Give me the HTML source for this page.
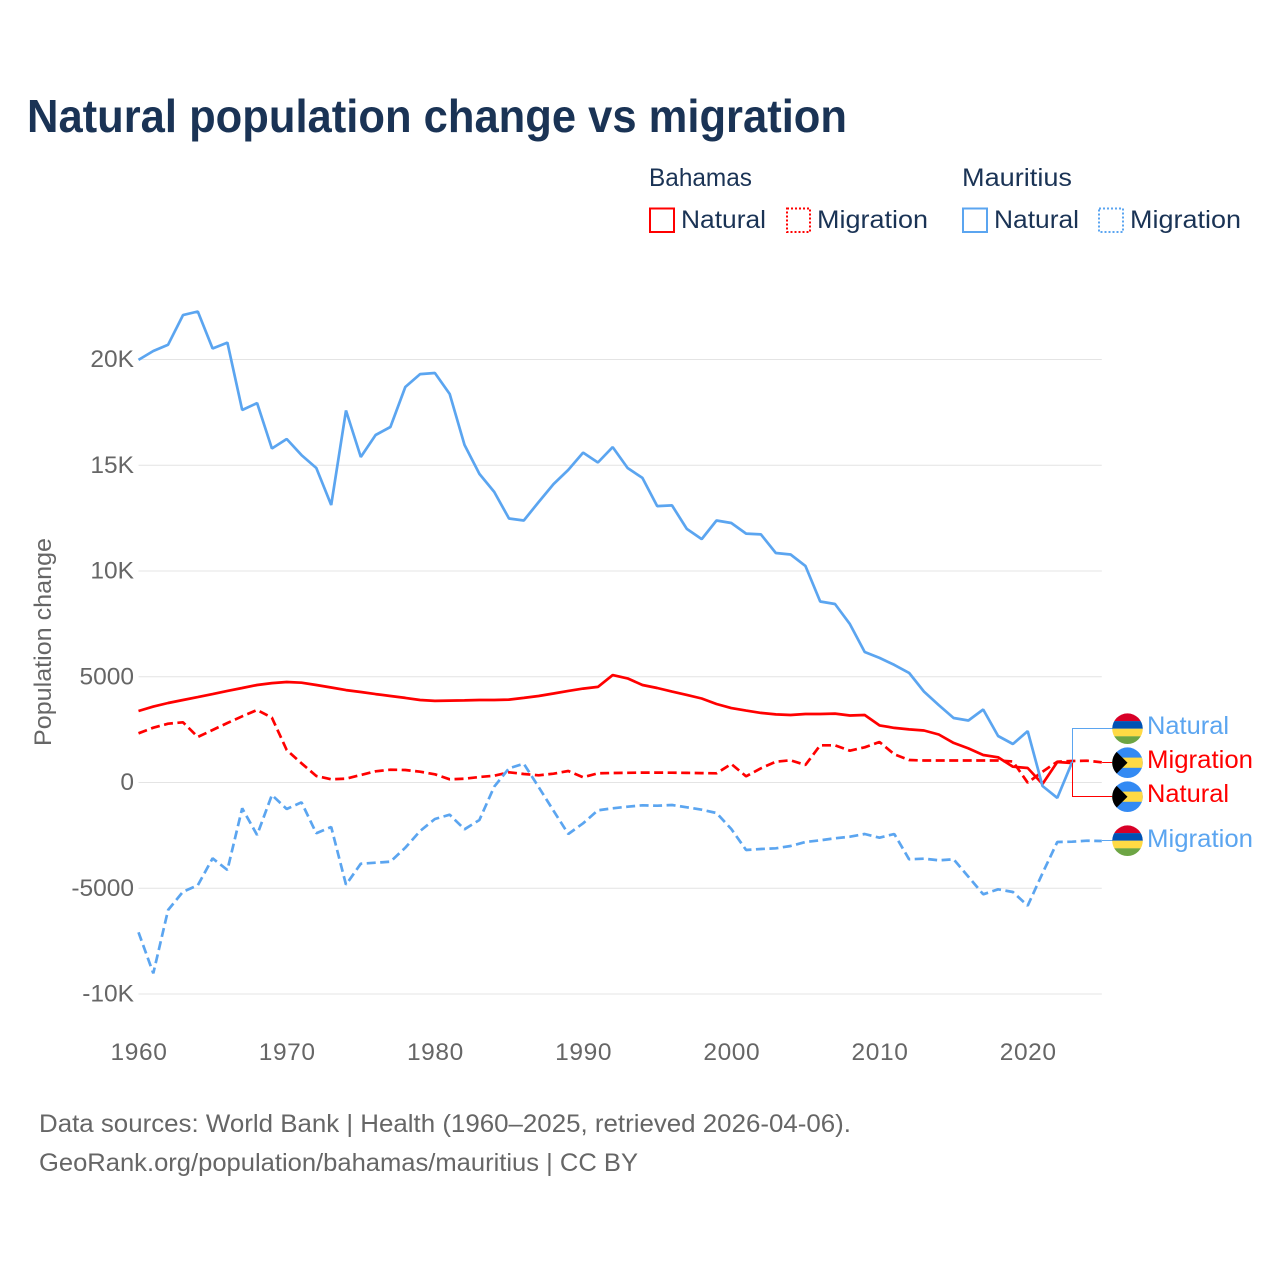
<!DOCTYPE html>
<html lang="en">
<head>
<meta charset="utf-8">
<title>Natural population change vs migration</title>
<style>
html,body{margin:0;padding:0;background:#fff;}
svg{display:block;font-family:"Liberation Sans",sans-serif;}
</style>
</head>
<body>
<svg id="chart" xmlns="http://www.w3.org/2000/svg" width="1280" height="1280" viewBox="0 0 1280 1280">
  <defs>
    <clipPath id="flag-clip"><circle cx="0" cy="0" r="15.3"/></clipPath>
  </defs>
  <rect width="1280" height="1280" fill="#fff"/>
  <text x="27" y="132" font-size="46" font-weight="700" fill="#1a3355" textLength="820" lengthAdjust="spacingAndGlyphs">Natural population change vs migration</text>

  <g font-size="25" fill="#1a3355">
    <text x="649" y="186" textLength="103" lengthAdjust="spacingAndGlyphs">Bahamas</text>
    <text x="962" y="186" textLength="110" lengthAdjust="spacingAndGlyphs">Mauritius</text>
    <rect x="650" y="208.5" width="24" height="23.5" fill="none" stroke="#ff0000" stroke-width="2"/>
    <text x="681" y="228" textLength="85" lengthAdjust="spacingAndGlyphs">Natural</text>
    <rect x="787" y="208.5" width="23" height="23.5" fill="none" stroke="#ff0000" stroke-width="2" stroke-dasharray="2 2"/>
    <text x="817" y="228" textLength="111" lengthAdjust="spacingAndGlyphs">Migration</text>
    <rect x="963" y="208.5" width="24" height="23.5" fill="none" stroke="#5ba5f0" stroke-width="2"/>
    <text x="994" y="228" textLength="85" lengthAdjust="spacingAndGlyphs">Natural</text>
    <rect x="1099" y="208.5" width="24" height="23.5" fill="none" stroke="#5ba5f0" stroke-width="2" stroke-dasharray="2 2"/>
    <text x="1130" y="228" textLength="111" lengthAdjust="spacingAndGlyphs">Migration</text>
  </g>

  <g id="grid"></g>
  <g id="y-ticks"></g>
  <g id="x-ticks"></g>
  <text transform="translate(51,642) rotate(-90)" text-anchor="middle" font-size="24" fill="#666" textLength="208" lengthAdjust="spacingAndGlyphs">Population change</text>
  <g id="series"></g>
  <g id="connectors"></g>

  <g>
    <g transform="translate(1127.5,728.7)" clip-path="url(#flag-clip)">
      <rect x="-16" y="-16" width="32" height="8.5" fill="#d80027"/><rect x="-16" y="-7.6" width="32" height="7.7" fill="#0052b4"/><rect x="-16" y="0" width="32" height="7.7" fill="#ffda44"/><rect x="-16" y="7.6" width="32" height="8.5" fill="#6da544"/>
    </g>
    <text x="1147" y="734" font-size="25" fill="#5ba5f0" textLength="82" lengthAdjust="spacingAndGlyphs">Natural</text>
  </g>
  <g>
    <g transform="translate(1127.5,762.7)" clip-path="url(#flag-clip)">
      <rect x="-16" y="-16" width="32" height="32" fill="#338af3"/><rect x="-16" y="-5.1" width="32" height="10.2" fill="#ffda44"/><polygon points="-16,-16 0,0 -16,16" fill="#000"/>
    </g>
    <text x="1147" y="768" font-size="25" fill="#ff0000" textLength="106" lengthAdjust="spacingAndGlyphs">Migration</text>
  </g>
  <g>
    <g transform="translate(1127.5,796.7)" clip-path="url(#flag-clip)">
      <rect x="-16" y="-16" width="32" height="32" fill="#338af3"/><rect x="-16" y="-5.1" width="32" height="10.2" fill="#ffda44"/><polygon points="-16,-16 0,0 -16,16" fill="#000"/>
    </g>
    <text x="1147" y="802" font-size="25" fill="#ff0000" textLength="82" lengthAdjust="spacingAndGlyphs">Natural</text>
  </g>
  <g>
    <g transform="translate(1127.5,840.7)" clip-path="url(#flag-clip)">
      <rect x="-16" y="-16" width="32" height="8.5" fill="#d80027"/><rect x="-16" y="-7.6" width="32" height="7.7" fill="#0052b4"/><rect x="-16" y="0" width="32" height="7.7" fill="#ffda44"/><rect x="-16" y="7.6" width="32" height="8.5" fill="#6da544"/>
    </g>
    <text x="1147" y="847" font-size="25" fill="#5ba5f0" textLength="106" lengthAdjust="spacingAndGlyphs">Migration</text>
  </g>

  <g font-size="25" fill="#666">
    <text x="39" y="1132" textLength="812" lengthAdjust="spacingAndGlyphs">Data sources: World Bank | Health (1960–2025, retrieved 2026-04-06).</text>
    <text x="39" y="1171" textLength="599" lengthAdjust="spacingAndGlyphs">GeoRank.org/population/bahamas/mauritius | CC BY</text>
  </g>
</svg>
<script>
const startYear = 1960;
const yTickValues = [20000, 15000, 10000, 5000, 0, -5000, -10000];
const yTickLabels = ['20K', '15K', '10K', '5000', '0', '-5000', '-10K'];
const xTickYears = [1960, 1970, 1980, 1990, 2000, 2010, 2020];

const mauritiusNatural = [19980,20400,20700,22100,22270,20520,20800,17610,17940,15790,16240,15480,14870,13120,17590,15390,16430,16810,18700,19310,19360,18370,15960,14590,13740,12480,12390,13260,14110,14780,15600,15130,15860,14870,14400,13070,13100,11990,11510,12390,12270,11770,11730,10850,10780,10240,8560,8440,7490,6170,5890,5560,5180,4300,3660,3050,2930,3450,2200,1820,2430,-165,-730,970];
const mauritiusMigration = [-7083,-9021,-6028,-5163,-4860,-3584,-4137,-1220,-2482,-591,-1253,-936,-2402,-2104,-4832,-3839,-3792,-3745,-3083,-2293,-1726,-1522,-2213,-1773,-199,671,889,-213,-1333,-2435,-1929,-1314,-1220,-1144,-1078,-1097,-1064,-1173,-1286,-1442,-2199,-3191,-3144,-3111,-3002,-2813,-2733,-2638,-2563,-2435,-2610,-2435,-3631,-3603,-3678,-3631,-4454,-5286,-5049,-5177,-5825,-4293,-2813,-2799,-2752,-2766];
const bahamasNatural = [3380,3590,3760,3900,4040,4180,4330,4470,4610,4700,4750,4720,4610,4490,4370,4280,4180,4090,4000,3900,3860,3870,3880,3900,3900,3920,4000,4090,4210,4330,4440,4520,5080,4920,4610,4470,4300,4140,3970,3710,3520,3400,3290,3220,3190,3240,3240,3260,3170,3190,2700,2580,2510,2460,2270,1870,1610,1300,1191,747,686,-71,969,922];
const bahamasMigration = [2326,2591,2780,2846,2151,2482,2813,3130,3428,3064,1537,908,307,151,180,355,530,605,591,511,388,151,180,260,322,482,402,340,416,544,246,435,449,459,468,468,463,454,444,435,875,293,671,985,1050,827,1759,1759,1504,1664,1915,1333,1064,1040,1040,1040,1040,1040,1040,993,-9,511,983,1017,1031,955];

const RED = '#ff0000';
const BLUE = '#5ba5f0';
const NS = 'http://www.w3.org/2000/svg';

function xScale(year) { return 138.5 + (year - startYear) * 14.82; }
function yScale(value) { return 782.5 - value * 0.02115; }

const gridGroup = document.getElementById('grid');
const yTickGroup = document.getElementById('y-ticks');
const xTickGroup = document.getElementById('x-ticks');
const seriesGroup = document.getElementById('series');
const connectorGroup = document.getElementById('connectors');

yTickValues.forEach(function (value, i) {
  const line = document.createElementNS(NS, 'line');
  
  
  line.setAttribute('x1', xScale(startYear));
  line.setAttribute('x2', xScale(2025));
  line.setAttribute('y1', yScale(value));
  line.setAttribute('y2', yScale(value));
  line.setAttribute('stroke', '#e4e4e4');
  line.setAttribute('stroke-width', '1');
  gridGroup.appendChild(line);

  const label = document.createElementNS(NS, 'text');
  
  
  label.setAttribute('x', '134');
  label.setAttribute('y', yScale(value) + 7.5);
  label.setAttribute('text-anchor', 'end');
  label.setAttribute('font-size', '24.5');
  label.setAttribute('fill', '#666');
  label.textContent = yTickLabels[i];
  yTickGroup.appendChild(label);
});

xTickYears.forEach(function (year) {
  const label = document.createElementNS(NS, 'text');
  
  
  label.setAttribute('x', xScale(year) + 0.5);
  label.setAttribute('y', '1060');
  label.setAttribute('text-anchor', 'middle');
  label.setAttribute('font-size', '24.5');
  label.setAttribute('letter-spacing', '0.6');
  label.setAttribute('fill', '#666');
  label.textContent = String(year);
  xTickGroup.appendChild(label);
});

function linePath(values) {
  return values.map(function (value, i) {
    return (i === 0 ? 'M' : 'L') + xScale(startYear + i).toFixed(1) + ' ' + yScale(value).toFixed(1);
  }).join(' ');
}

function addSeries(name, values, color, dashed) {
  const path = document.createElementNS(NS, 'path');
  
  
  path.setAttribute('d', linePath(values));
  path.setAttribute('fill', 'none');
  path.setAttribute('stroke', color);
  path.setAttribute('stroke-width', '2.7');
  path.setAttribute('stroke-linejoin', 'bevel');
  if (dashed) {
    path.setAttribute('stroke-dasharray', '9 4.5');
  }
  seriesGroup.appendChild(path);
}

addSeries('line-bahamas-natural', bahamasNatural, RED, false);
addSeries('line-bahamas-migration', bahamasMigration, RED, true);
addSeries('line-mauritius-natural', mauritiusNatural, BLUE, false);
addSeries('line-mauritius-migration', mauritiusMigration, BLUE, true);

function addConnector(name, values, color, labelY) {
  const lastIndex = values.length - 1;
  const lastX = Math.round(xScale(startYear + lastIndex)) + 0.5;
  const lastY = yScale(values[lastIndex]);
  const path = document.createElementNS(NS, 'path');
  
  
  path.setAttribute('d', 'M' + lastX + ' ' + lastY + ' L' + lastX + ' ' + labelY + ' L1113 ' + labelY);
  path.setAttribute('fill', 'none');
  path.setAttribute('stroke', color);
  path.setAttribute('stroke-width', '1');
  connectorGroup.appendChild(path);
}

addConnector('connector-mauritius-natural', mauritiusNatural, BLUE, 728.5);
addConnector('connector-bahamas-natural', bahamasNatural, RED, 796.5);
addConnector('connector-bahamas-migration', bahamasMigration, RED, 762.5);
addConnector('connector-mauritius-migration', mauritiusMigration, BLUE, 840.5);
</script>
</body>
</html>
